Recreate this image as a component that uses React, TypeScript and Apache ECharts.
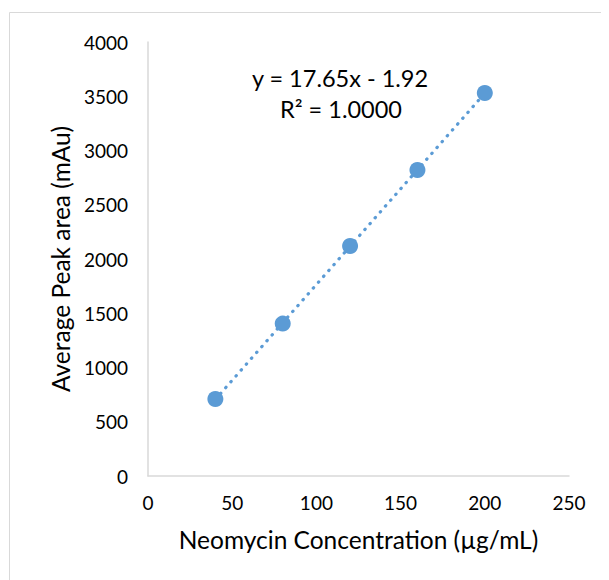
import React, { useEffect, useRef } from "react";
import * as echarts from "echarts";

const concentrations = [40, 80, 120, 160, 200];
const peakAreas = [710, 1405, 2120, 2820, 3530];
const equationText = "y = 17.65x - 1.92";
const r2Text = "R² = 1.0000";
const xTitle = "Neomycin Concentration (µg/mL)";
const yTitle = "Average Peak area (mAu)";

function fit(xs: number[], ys: number[]) {
  const n = xs.length;
  const mx = xs.reduce((a, b) => a + b, 0) / n;
  const my = ys.reduce((a, b) => a + b, 0) / n;
  let sxy = 0, sxx = 0;
  for (let i = 0; i < n; i++) {
    sxy += (xs[i] - mx) * (ys[i] - my);
    sxx += (xs[i] - mx) * (xs[i] - mx);
  }
  const slope = sxy / sxx;
  return { slope, intercept: my - slope * mx };
}

export default function App() {
  const ref = useRef<HTMLDivElement>(null);
  useEffect(() => {
    if (!ref.current) return;
    const chart = echarts.init(ref.current, undefined, { renderer: "svg" });
    const { slope, intercept } = fit(concentrations, peakAreas);
    const xMin = Math.min(...concentrations);
    const xMax = Math.max(...concentrations);
    const font = "Lato, 'Open Sans', sans-serif";
    chart.setOption({
      animation: false,
      backgroundColor: "#fff",
      textStyle: { fontFamily: font },
      graphic: [
        {
          type: "rect",
          shape: { x: 1.5, y: 4.5, width: 700, height: 700 },
          style: { fill: "none", stroke: "#D9D9D9", lineWidth: 1 },
          silent: true,
        },
        {
          type: "text",
          x: 332,
          y: 70,
          style: { text: equationText, fontSize: 23.5, fontFamily: font, fill: "#000", align: "center", verticalAlign: "middle" },
        },
        {
          type: "text",
          x: 333,
          y: 101,
          style: { text: r2Text, fontSize: 23.5, fontFamily: font, fill: "#000", align: "center", verticalAlign: "middle" },
        },
      ],
      grid: { left: 140, top: 34, right: 40, bottom: 104, containLabel: false },
      xAxis: {
        type: "value",
        min: 0,
        max: 250,
        interval: 50,
        name: xTitle,
        nameLocation: "middle",
        nameGap: 51,
        nameTextStyle: { fontSize: 24.5, color: "#000", fontFamily: font },
        axisLine: { show: true, lineStyle: { color: "#D9D9D9", width: 1.5 } },
        axisTick: { show: false },
        splitLine: { show: false },
        axisLabel: { fontSize: 19, color: "#000", margin: 17, fontFamily: font },
      },
      yAxis: {
        type: "value",
        min: 0,
        max: 4000,
        interval: 500,
        name: yTitle,
        nameLocation: "middle",
        nameGap: 75,
        nameTextStyle: { fontSize: 24.5, color: "#000", fontFamily: font },
        axisLine: { show: true, lineStyle: { color: "#D9D9D9", width: 1.5 } },
        axisTick: { show: false },
        splitLine: { show: false },
        axisLabel: { fontSize: 19, color: "#000", margin: 20, fontFamily: font, formatter: (v: number) => String(v) },
      },
      series: [
        {
          type: "line",
          data: [
            [xMin, slope * xMin + intercept],
            [xMax, slope * xMax + intercept],
          ],
          showSymbol: false,
          symbol: "none",
          lineStyle: { color: "#5B9BD5", width: 3.2, type: [0.5, 7.3], cap: "round" },
          z: 1,
          silent: true,
        },
        {
          type: "scatter",
          data: concentrations.map((c, i) => [c, peakAreas[i]]),
          symbol: "circle",
          symbolSize: 16,
          itemStyle: { color: "#5B9BD5", opacity: 1 },
          z: 2,
        },
      ],
    });
    return () => chart.dispose();
  }, []);
  return <div ref={ref} style={{ width: 601, height: 572 }} />;
}
